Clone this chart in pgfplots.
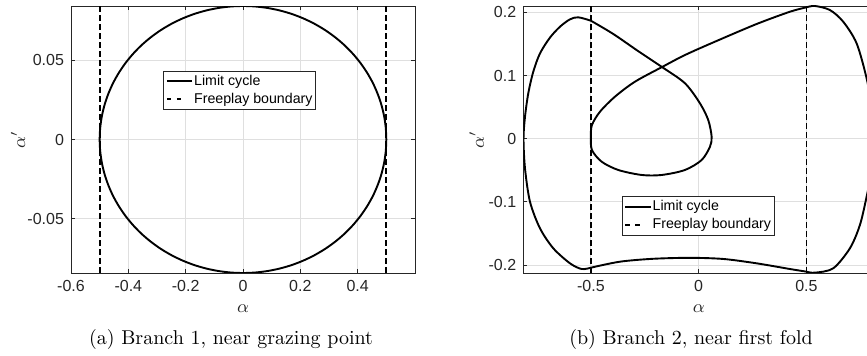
\documentclass[border=0pt]{standalone}
\usepackage{fontspec}
\usepackage{pgfplots}
\pgfplotsset{compat=1.18}
\newfontfamily\hv{Liberation Sans}
\definecolor{axgray}{RGB}{38,38,38}
\definecolor{gridgray}{RGB}{223,223,223}
\newcommand\tickfont{\fontsize{8}{9.6}\selectfont\hv}
\newcommand\legfont{\fontsize{7.1}{8.5}\selectfont\hv}

\pgfplotsset{
  matfig/.style={
    scale only axis, height=133.5pt,
    scaled ticks=false,
    axis line style={axgray, line width=0.45pt},
    grid=major, major grid style={gridgray, line width=0.45pt},
    tick align=inside, xtick pos=both, ytick pos=both,
    xticklabel pos=lower, yticklabel pos=left,
    major tick length=2pt, tick style={axgray, line width=0.45pt},
    ticklabel style={font=\tickfont, text=axgray},
    label style={font=\fontsize{8.8}{10}\selectfont, text=axgray},
    legend cell align=left,
    legend style={draw=axgray, line width=0.45pt, fill=white, font=\legfont,
      inner xsep=1.2pt, inner ysep=1.15pt, row sep=1pt,
      nodes={inner sep=0.5pt, text height=5.5pt, text depth=1.5pt}},
    legend image code/.code={\draw[#1] (0pt,0pt) -- (12.6pt,0pt);},
  },
  cyc/.style={black, line width=0.95pt, smooth, tension=0.5},
  fp/.style={black, line width=0.9pt, dash pattern=on 3pt off 1.5pt,
    legend image code/.code={\draw[black, line width=0.9pt]
      (0pt,0pt) -- (2.2pt,0pt) (5pt,0pt) -- (7.2pt,0pt);}},
}

\begin{document}
\begin{tikzpicture}
\useasboundingbox (0pt,0pt) rectangle (433.5pt,-178pt);

% (a) limit cycle of branch 1, close to grazing the freeplay boundary
\begin{axis}[matfig,
  at={(35.5pt,-136.5pt)}, anchor=south west, width=172pt,
  xmin=-0.6, xmax=0.6, ymin=-0.0843, ymax=0.0843,
  xtick={-0.6,-0.4,-0.2,0,0.2,0.4},
  xticklabels={-0.6,-0.4,-0.2,0,0.2,0.4},
  ytick={-0.05,0,0.05}, yticklabels={-0.05,0,0.05},
  xlabel={$\alpha$}, ylabel={$\alpha'$},
  xlabel style={at={(axis description cs:0.5,-0.1348)}, anchor=center},
  ylabel style={at={(axis description cs:-0.154,0.5)}, anchor=center},
  legend style={at={(axis description cs:0.268,0.758)}, anchor=north west},
]
\addplot[cyc] coordinates {
(0.5,0) (0.4981,0.00735) (0.4924,0.01464) (0.4830,0.02182) (0.4698,0.02883)
(0.4532,0.03563) (0.4330,0.04215) (0.4096,0.04835) (0.3830,0.05419)
(0.3536,0.05961) (0.3214,0.06457) (0.2868,0.06905) (0.2500,0.07300)
(0.2113,0.07640) (0.1710,0.07922) (0.1294,0.08143) (0.0868,0.08302)
(0.0436,0.08398) (0,0.0843)
(-0.0436,0.08398) (-0.0868,0.08302) (-0.1294,0.08143) (-0.1710,0.07922)
(-0.2113,0.07640) (-0.2500,0.07300) (-0.2868,0.06905) (-0.3214,0.06457)
(-0.3536,0.05961) (-0.3830,0.05419) (-0.4096,0.04835) (-0.4330,0.04215)
(-0.4532,0.03563) (-0.4698,0.02883) (-0.4830,0.02182) (-0.4924,0.01464)
(-0.4981,0.00735) (-0.5,0)
(-0.4981,-0.00735) (-0.4924,-0.01464) (-0.4830,-0.02182) (-0.4698,-0.02883)
(-0.4532,-0.03563) (-0.4330,-0.04215) (-0.4096,-0.04835) (-0.3830,-0.05419)
(-0.3536,-0.05961) (-0.3214,-0.06457) (-0.2868,-0.06905) (-0.2500,-0.07300)
(-0.2113,-0.07640) (-0.1710,-0.07922) (-0.1294,-0.08143) (-0.0868,-0.08302)
(-0.0436,-0.08398) (0,-0.0843)
(0.0436,-0.08398) (0.0868,-0.08302) (0.1294,-0.08143) (0.1710,-0.07922)
(0.2113,-0.07640) (0.2500,-0.07300) (0.2868,-0.06905) (0.3214,-0.06457)
(0.3536,-0.05961) (0.3830,-0.05419) (0.4096,-0.04835) (0.4330,-0.04215)
(0.4532,-0.03563) (0.4698,-0.02883) (0.4830,-0.02182) (0.4924,-0.01464)
(0.4981,-0.00735) (0.5,0)
};
\addlegendentry{Limit cycle}
\addplot[fp] coordinates {(-0.5,-0.0843) (-0.5,0.0843)};
\addlegendentry{Freeplay boundary}
\addplot[fp, forget plot] coordinates {(0.5,-0.0843) (0.5,0.0843)};
\end{axis}

% (b) limit cycle of branch 2, close to the first fold
\begin{axis}[matfig,
  at={(261.65pt,-136.5pt)}, anchor=south west, width=175.5pt,
  xmin=-0.8135, xmax=0.815, ymin=-0.2125, ymax=0.21,
  xtick={-0.5,0,0.5}, xticklabels={-0.5,0,0.5},
  ytick={-0.2,-0.1,0,0.1,0.2}, yticklabels={-0.2,-0.1,0,0.1,0.2},
  xlabel={$\alpha$}, ylabel={$\alpha'$},
  xlabel style={at={(axis description cs:0.5,-0.1348)}, anchor=center},
  ylabel style={at={(axis description cs:-0.1328,0.5)}, anchor=center},
  legend style={at={(axis description cs:0.2803,0.2884)}, anchor=north west},
]
% outer arc, alpha < -0.5
\addplot[cyc] coordinates {
(-0.5,-0.2041) (-0.5427,-0.2062) (-0.5969,-0.1972) (-0.6744,-0.1734)
(-0.7361,-0.1418) (-0.7825,-0.0997) (-0.8057,-0.0468) (-0.8125,0)
(-0.8056,0.0348) (-0.7904,0.0718) (-0.7672,0.1060) (-0.7361,0.1350)
(-0.6897,0.1600) (-0.6433,0.1772) (-0.5969,0.1889) (-0.5584,0.1921)
(-0.5,0.1867)
};
\addlegendentry{Limit cycle}
% inside the freeplay region, with the inner loop
\addplot[cyc, forget plot] coordinates {
(-0.5,0.1867) (-0.3961,0.1657) (-0.2815,0.1388) (-0.1700,0.1134)
(-0.0635,0.0877) (0.006,0.056) (0.0445,0.0296) (0.0603,0.003)
(0.0524,-0.0127) (0.0139,-0.0337) (-0.0635,-0.0495) (-0.1716,-0.0574)
(-0.2644,-0.0574) (-0.3729,-0.0495) (-0.4499,-0.0364) (-0.4950,-0.0179)
(-0.5,0.003) (-0.4950,0.0217) (-0.4578,0.0427) (-0.3882,0.0665)
(-0.2955,0.0902) (-0.1700,0.1134) (-0.0635,0.1324) (0.0756,0.1535)
(0.2690,0.1815) (0.4235,0.2009) (0.5,0.2079)
};
% outer arc, alpha > 0.5
\addplot[cyc, forget plot] coordinates {
(0.5,0.2079) (0.5394,0.2100) (0.6090,0.2036) (0.6707,0.1851)
(0.7328,0.1509) (0.7792,0.0956) (0.806,0.045) (0.815,0)
(0.806,-0.045) (0.7792,-0.0918) (0.7481,-0.1366) (0.7018,-0.1734)
(0.6243,-0.2051) (0.5394,-0.2120) (0.5,-0.2104)
};
% lower branch back across the freeplay region
\addplot[cyc, forget plot] coordinates {
(0.5,-0.2104) (0.4235,-0.2062) (0.2690,-0.1972) (0.1141,-0.1903)
(-0.04,-0.1885) (-0.21,-0.1900) (-0.3650,-0.1946) (-0.5,-0.2041)
};
\addplot[fp] coordinates {(-0.5,-0.2125) (-0.5,0.21)};
\addlegendentry{Freeplay boundary}
\addplot[fp, forget plot] coordinates {(0.5,-0.2125) (0.5,0.21)};
\end{axis}

\node[anchor=base] at (115.5pt,-172.5pt) {(a) Branch 1, near grazing point};
\node[anchor=base] at (345.5pt,-172.5pt) {(b) Branch 2, near first fold};
\end{tikzpicture}
\end{document}
